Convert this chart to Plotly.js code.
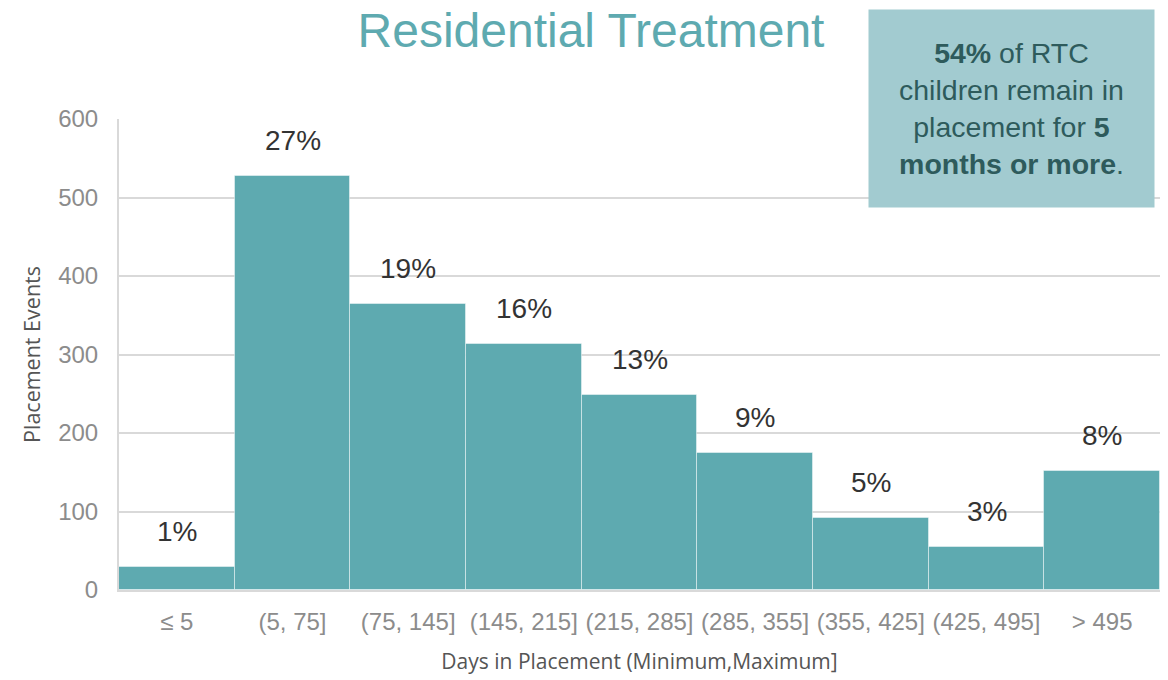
<!DOCTYPE html>
<html>
<head>
<meta charset="utf-8">
<script src="https://cdn.plot.ly/plotly-3.0.1.min.js"></script>
<style>html,body{margin:0;padding:0;background:#fff;}#chart{width:1168px;height:680px;}</style>
</head>
<body>
<div id="chart"></div>
<script>
const categories = ["≤ 5", "(5, 75]", "(75, 145]", "(145, 215]", "(215, 285]", "(285, 355]", "(355, 425]", "(425, 495]", "> 495"];
const placementEvents = [29, 527, 364, 313, 248, 175, 92, 55, 152];
const percentLabels = ["1%", "27%", "19%", "16%", "13%", "9%", "5%", "3%", "8%"];
const yTicks = [0, 100, 200, 300, 400, 500, 600];

const teal = "#5eaab0";
const arial = "Liberation Sans, Arial, sans-serif";

const trace = {
  type: "bar",
  x: categories,
  y: placementEvents,
  marker: {color: teal, line: {color: "rgba(255,255,255,0.45)", width: 1}},
  hoverinfo: "x+y",
  showlegend: false
};

const annotations = categories.map((c, i) => ({
  x: c, y: placementEvents[i], xref: "x", yref: "y",
  text: percentLabels[i], showarrow: false, yanchor: "bottom", yshift: 18,
  font: {family: arial, size: 28, color: "#333333"}
}));

annotations.push({
  xref: "paper", yref: "paper", x: 0.857, y: 1.022, xanchor: "center", yanchor: "middle",
  text: "<b>54%</b> of RTC<br>children remain in<br>placement for <b>5</b><br><b>months or more</b>.",
  showarrow: false, align: "center",
  bgcolor: "#a2cbd0", borderpad: 0, width: 285, height: 197,
  font: {family: arial, size: 28.5, color: "#2e5b5c"}
});

const layout = {
  width: 1168, height: 680,
  margin: {l: 119, r: 8, t: 119, b: 90},
  paper_bgcolor: "#ffffff", plot_bgcolor: "#ffffff",
  bargap: 0,
  title: {
    text: "Residential Treatment",
    x: 0.506, xanchor: "center", y: 0.955, yanchor: "middle",
    font: {family: arial, size: 48, color: teal}
  },
  xaxis: {
    type: "category",
    tickfont: {family: arial, size: 24, color: "#8c8c8c"},
    showline: true, linecolor: "#d9d9d9", linewidth: 2,
    ticks: "", ticklen: 0, ticklabelstandoff: 9,
    title: {text: "Days in Placement (Minimum,Maximum]", standoff: 21,
      font: {family: "Open Sans, Noto Sans, sans-serif", size: 21, color: "#555555"}}
  },
  yaxis: {
    range: [0, 600], tickvals: yTicks,
    tickfont: {family: arial, size: 24, color: "#8c8c8c"},
    showgrid: true, gridcolor: "#d9d9d9", gridwidth: 2,
    showline: true, linecolor: "#d9d9d9", linewidth: 2,
    zeroline: false, ticks: "", ticklabelstandoff: 14,
    title: {text: "Placement Events", standoff: 12,
      font: {family: "Open Sans, Noto Sans, sans-serif", size: 21.5, color: "#555555"}}
  },
  annotations: annotations
};

Plotly.newPlot("chart", [trace], layout, {displayModeBar: false, responsive: false});
</script>
</body>
</html>
